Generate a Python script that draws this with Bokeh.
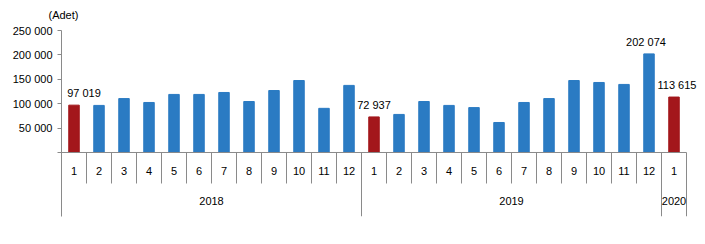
from bokeh.plotting import figure
from bokeh.models import ColumnDataSource, Range1d, FixedTicker, LabelSet
from bokeh.core.properties import value
from bokeh.embed import file_html
from bokeh.resources import INLINE

# ---- data ----
years = ["2018"] * 12 + ["2019"] * 12 + ["2020"]
months = [1, 2, 3, 4, 5, 6, 7, 8, 9, 10, 11, 12,
          1, 2, 3, 4, 5, 6, 7, 8, 9, 10, 11, 12,
          1]
values = [97019, 96500, 110500, 102500, 119000, 119000, 123000, 104500, 127000, 147500, 90500, 137500,
          72937, 78000, 104500, 96500, 92000, 61500, 102500, 110500, 147500, 143500, 139500, 202074,
          113615]
labelled_index = [0, 12, 23, 24]
labelled_text = ["97 019", "72 937", "202 074", "113 615"]
y_tick_values = [0, 50000, 100000, 150000, 200000, 250000]
y_tick_labels = ["", "50 000", "100 000", "150 000", "200 000", "250 000"]
unit_label = "(Adet)"

FONT = "Liberation Sans"
BLUE = "#2b7bc3"
RED = "#a3171b"
GREY = "#8a8a8a"

n = len(values)
x = [i + 0.5 for i in range(n)]
colors = [RED if m == 1 else BLUE for m in months]

Y_MIN = -131148
Y_MONTH_SEP = -63500
Y_MONTH_LBL = -36900
Y_YEAR_LBL = -100400

p = figure(width=705, height=244, output_backend="svg", toolbar_location=None,
           x_range=Range1d(0, n + 0.56), y_range=Range1d(Y_MIN, 250000),
           min_border_left=61, min_border_right=5, min_border_top=30, min_border_bottom=28)
p.outline_line_color = None
p.xgrid.visible = False
p.ygrid.visible = False
p.xaxis.visible = False
p.background_fill_color = "white"
p.border_fill_color = "white"

p.title.text = unit_label
p.title.align = "left"
p.title.offset = -13
p.title.standoff = 16
p.title.vertical_align = "top"
p.title.text_font = FONT
p.title.text_font_size = "11px"
p.title.text_font_style = "normal"
p.title.text_color = "#000000"

ya = p.yaxis[0]
ya.ticker = FixedTicker(ticks=y_tick_values)
ya.major_label_overrides = {v: l for v, l in zip(y_tick_values, y_tick_labels)}
ya.minor_tick_line_color = None
ya.major_tick_in = 0
ya.major_tick_out = 4
ya.axis_line_color = GREY
ya.major_tick_line_color = GREY
ya.major_label_text_font = FONT
ya.major_label_text_font_size = "11px"
ya.major_label_text_color = "#000000"
ya.major_label_standoff = 5

src = ColumnDataSource(dict(x=x, top=values, color=colors))
p.vbar(x="x", top="top", width=0.42, bottom=0, color="color", source=src)

# baseline
p.segment(x0=[0], y0=[0], x1=[n], y1=[0], line_color=GREY, line_width=1)

# separators between categories
sx, sy0, sy1 = [], [], []
for i in range(1, n + 1):
    is_year = i == n or years[i] != years[i - 1]
    sx.append(i)
    sy0.append(0)
    sy1.append(Y_MIN if is_year else Y_MONTH_SEP)
p.segment(x0=sx, y0=sy0, x1=sx, y1=sy1, line_color=GREY, line_width=1)

# month labels
p.text(x=x, y=[Y_MONTH_LBL] * n, text=[str(m) for m in months],
       text_font=value(FONT), text_font_size="11px", text_align="center",
       text_baseline="middle", text_color="#000000")

# year labels
yl_x, yl_t = [], []
start = 0
for i in range(1, n + 1):
    if i == n or years[i] != years[i - 1]:
        yl_x.append((start + i) / 2)
        yl_t.append(years[start])
        start = i
p.text(x=yl_x, y=[Y_YEAR_LBL] * len(yl_x), text=yl_t,
       text_font=value(FONT), text_font_size="11px", text_align="center",
       text_baseline="middle", text_color="#000000")

# value labels
lab_src = ColumnDataSource(dict(x=[x[i] for i in labelled_index],
                                y=[values[i] for i in labelled_index],
                                text=labelled_text,
                                xo=[10, 0, -3, 3]))
p.add_layout(LabelSet(x="x", y="y", text="text", source=lab_src, x_offset="xo", y_offset=6,
                      text_font=value(FONT), text_font_size="11px", text_align="center",
                      text_baseline="bottom", text_color="#000000"))

open("out.html", "w").write(file_html(p, INLINE))
